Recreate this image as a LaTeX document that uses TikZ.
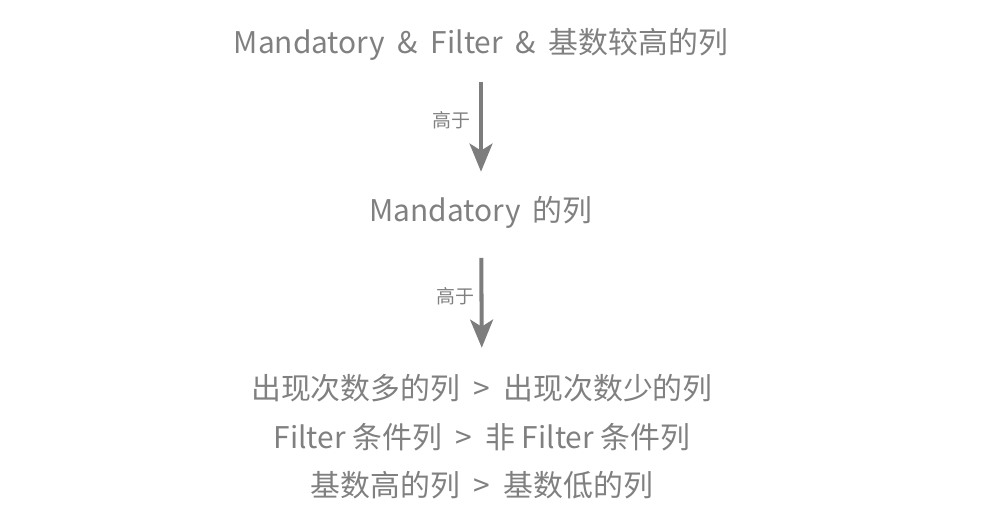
\documentclass[tikz,border=0pt]{standalone}
\usepackage{fontspec}
\setmainfont{Noto Sans CJK SC}
\usetikzlibrary{arrows.meta}
\definecolor{txtgray}{RGB}{128,128,128}
\definecolor{arrgray}{RGB}{125,125,125}

\begin{document}
\begin{tikzpicture}[
  x=0.02cm, y=-0.02cm,
  level/.style={text=txtgray, font=\fontsize{17}{20}\selectfont,
    inner sep=0pt, text height=14.7pt, text depth=1.3pt},
  higher/.style={draw=arrgray, line width=2.3pt,
    -{Stealth[length=16pt, width=13pt, inset=4pt]}},
  tag/.style={text=txtgray, font=\fontsize{10.8}{12}\selectfont, anchor=east},
]
  \useasboundingbox (0,0) rectangle (1000,524);

  % 三层优先级
  \node[level] (top) at (481,42)
    {Mandatory\hspace{3.5pt} \&\hspace{3.5pt} Filter\hspace{3.5pt} \&\hspace{3.5pt} 基数较高的列};
  \node[level] (mid) at (481,210) {Mandatory\hspace{3pt} 的列};
  \node[level] (low1) at (482,388) {出现次数多的列 \ > \ 出现次数少的列};
  \node[level] (low2) at (482,437) {Filter 条件列 \ > \ 非 Filter 条件列};
  \node[level] (low3) at (482,485) {基数高的列 \ > \ 基数低的列};

  % 箭头：高于
  \draw[higher, shorten <=14.7pt, shorten >=13.6pt] (top) -- (mid)
    node[tag, pos=0.46, xshift=-1.6pt] {高于};
  \draw[higher, shorten <=19pt, shorten >=14.7pt] (mid) -- (low1)
    node[tag, pos=0.48, xshift=0.6pt] {高于};
\end{tikzpicture}
\end{document}
